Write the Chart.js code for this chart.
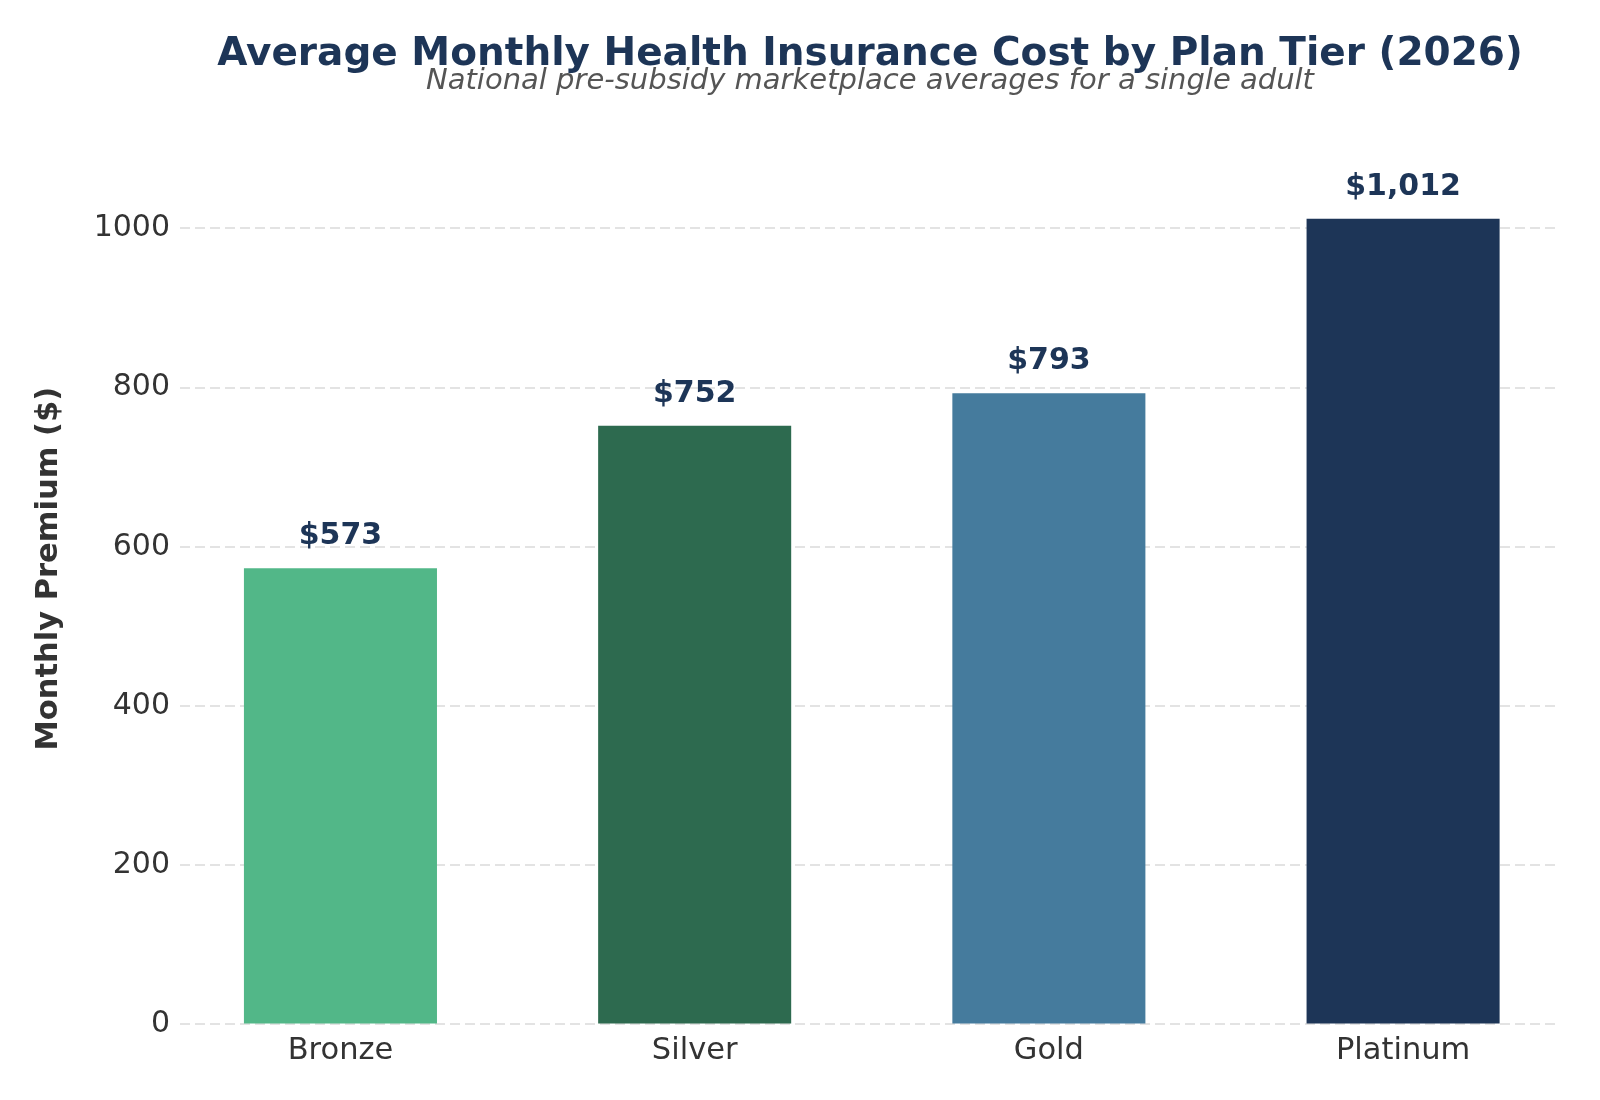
<!DOCTYPE html>
<html>
<head>
<meta charset="utf-8">
<title>Average Monthly Health Insurance Cost by Plan Tier (2026)</title>
<script src="https://cdn.jsdelivr.net/npm/chart.js@4.4.1/dist/chart.umd.min.js"></script>
<style>
  html, body { margin: 0; padding: 0; background: #ffffff; }
  #premiumChart { display: block; }
</style>
</head>
<body>
<canvas id="premiumChart" width="1600" height="1100"></canvas>
<script>
const planTiers = ["Bronze", "Silver", "Gold", "Platinum"];
const monthlyPremiums = [573, 752, 793, 1012];
const tierColors = ["#52b788", "#2d6a4f", "#457b9d", "#1d3557"];
const yTickValues = [0, 200, 400, 600, 800, 1000];

const FONT = "'DejaVu Sans', 'Liberation Sans', sans-serif";

function formatDollars(value) {
  return "$" + Number(value).toLocaleString("en-US");
}

// value labels above each bar
const barLabelPlugin = {
  id: "barLabels",
  afterDatasetsDraw(chart) {
    const ctx = chart.ctx;
    const meta = chart.getDatasetMeta(0);
    ctx.save();
    ctx.font = "bold 30px " + FONT;
    ctx.fillStyle = "#1d3557";
    ctx.textAlign = "center";
    ctx.textBaseline = "alphabetic";
    meta.data.forEach((bar, i) => {
      ctx.fillText(formatDollars(monthlyPremiums[i]), bar.x, bar.y - 24);
    });
    ctx.restore();
  }
};

function buildChart() {
  const canvas = document.getElementById("premiumChart");
  if (!canvas || typeof Chart === "undefined") return;

  const points = planTiers.map((tier, i) => ({ x: i, y: monthlyPremiums[i] }));

  new Chart(canvas, {
    type: "bar",
    data: {
      datasets: [
        {
          label: "Monthly Premium",
          data: points,
          backgroundColor: tierColors,
          borderWidth: 0,
          categoryPercentage: 1,
          barPercentage: 0.545
        }
      ]
    },
    options: {
      responsive: false,
      animation: false,
      layout: {
        padding: { left: 0, right: 40, top: 0, bottom: 23 }
      },
      plugins: {
        legend: { display: false },
        tooltip: { enabled: false },
        title: {
          display: true,
          text: "Average Monthly Health Insurance Cost by Plan Tier (2026)",
          color: "#1d3557",
          fullSize: false,
          font: { family: FONT, size: 39, weight: "bold", lineHeight: "32px" },
          padding: { top: 39, bottom: 0 }
        },
        subtitle: {
          display: true,
          text: "National pre-subsidy marketplace averages for a single adult",
          color: "#555555",
          fullSize: false,
          font: { family: FONT, size: 29, style: "italic", lineHeight: "21px" },
          padding: { top: 0, bottom: 21 }
        }
      },
      scales: {
        x: {
          type: "linear",
          offset: false,
          min: -0.453,
          max: 3.443,
          afterBuildTicks: (scale) => {
            scale.ticks = planTiers.map((t, i) => ({ value: i }));
          },
          grid: { display: false, drawTicks: false, offset: false },
          border: { display: false },
          ticks: {
            font: { family: FONT, size: 30.5 },
            color: "#333333",
            padding: 8,
            maxRotation: 0,
            callback: (value) => planTiers[value]
          }
        },
        y: {
          min: 0,
          max: 1145,
          afterBuildTicks: (scale) => {
            scale.ticks = yTickValues.map((v) => ({ value: v }));
          },
          afterFit: (scale) => {
            scale.width = 180;
          },
          grid: {
            color: "#e3e3e3",
            lineWidth: 2,
            drawTicks: false
          },
          border: { display: false, dash: [10, 5] },
          ticks: {
            font: { family: FONT, size: 30 },
            color: "#333333",
            padding: 10,
            callback: (value) => String(value)
          },
          title: {
            display: true,
            text: "Monthly Premium ($)",
            color: "#333333",
            font: { family: FONT, size: 30.5, weight: "bold" },
            padding: { top: 31, bottom: 0 }
          }
        }
      }
    },
    plugins: [barLabelPlugin]
  });
}

document.addEventListener("DOMContentLoaded", buildChart);
</script>
</body>
</html>
